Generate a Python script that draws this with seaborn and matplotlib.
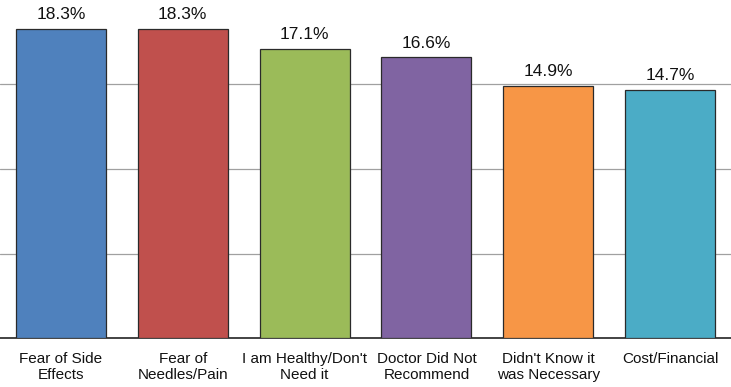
import matplotlib
matplotlib.use("Agg")
import matplotlib.pyplot as plt
import seaborn as sns
import pandas as pd

categories = ["Fear of Side\nEffects", "Fear of\nNeedles/Pain", "I am Healthy/Don't\nNeed it",
              "Doctor Did Not\nRecommend", "Didn't Know it\nwas Necessary", "Cost/Financial"]
values = [18.3, 18.3, 17.1, 16.6, 14.9, 14.7]
labels = ["18.3%", "18.3%", "17.1%", "16.6%", "14.9%", "14.7%"]
colors = ["#4F81BD", "#C0504D", "#9BBB59", "#8064A2", "#F79646", "#4BACC6"]

sns.set_style("white")
plt.rcParams['font.family'] = ['Liberation Sans', 'DejaVu Sans']

df = pd.DataFrame({"cat": categories, "val": values})

fig = plt.figure(figsize=(7.31, 3.87), dpi=100)
ax = fig.add_axes([0, 49 / 387, 1, 338 / 387])
sns.barplot(data=df, x="cat", y="val", hue="cat", palette=colors, legend=False,
            width=0.74, edgecolor="#2a2a2a", linewidth=0.9, saturation=1, ax=ax, zorder=3)

ax.set_ylim(0, 20)
ax.set_xlim(-0.5, 5.5)
ax.set_yticks([5, 10, 15])
ax.yaxis.grid(True, color="#a0a0a0", linewidth=0.9, zorder=0)
ax.set_axisbelow(True)
ax.set_yticklabels([])
ax.tick_params(axis="y", length=0)
ax.tick_params(axis="x", length=0, pad=10, labelsize=11, labelcolor="#111111")
ax.set_xlabel("")
ax.set_ylabel("")
for s in ["top", "left", "right"]:
    ax.spines[s].set_visible(False)
ax.spines["bottom"].set_color("#222222")
ax.spines["bottom"].set_linewidth(1.2)

for c, lab in zip(ax.containers, [[l] for l in labels]):
    ax.bar_label(c, labels=lab, padding=5, fontsize=12.5, color="#111111")

fig.savefig("out.png", dpi=100)
